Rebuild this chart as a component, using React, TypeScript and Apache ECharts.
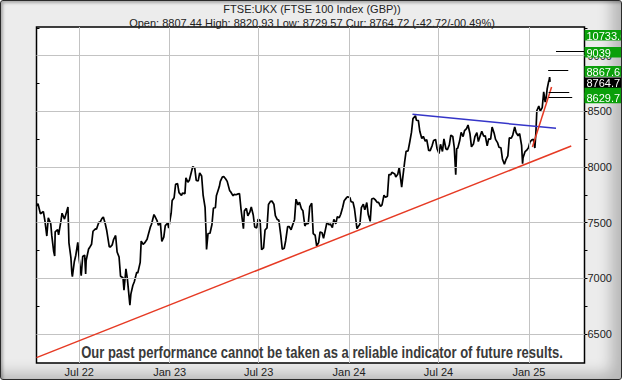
import React, { useEffect, useRef } from "react";
import * as echarts from "echarts";

// ---- price data ----
const prices2022: [string, number][] = [
  ["2022-04-05", 7650], ["2022-04-08", 7670], ["2022-04-13", 7580], ["2022-04-19", 7600], ["2022-04-22", 7521],
  ["2022-04-26", 7380], ["2022-04-29", 7544], ["2022-05-04", 7490], ["2022-05-06", 7388], ["2022-05-10", 7240],
  ["2022-05-12", 7200], ["2022-05-13", 7418], ["2022-05-18", 7438], ["2022-05-20", 7390], ["2022-05-25", 7522],
  ["2022-05-27", 7585], ["2022-06-01", 7532], ["2022-06-08", 7640], ["2022-06-10", 7318], ["2022-06-14", 7187],
  ["2022-06-16", 7045], ["2022-06-17", 7016], ["2022-06-21", 7152], ["2022-06-24", 7208], ["2022-06-28", 7323],
  ["2022-07-01", 7169], ["2022-07-05", 7025], ["2022-07-08", 7196], ["2022-07-12", 7209], ["2022-07-14", 7040],
  ["2022-07-15", 7159], ["2022-07-20", 7264], ["2022-07-22", 7276], ["2022-07-26", 7306], ["2022-07-29", 7423],
  ["2022-08-03", 7445], ["2022-08-05", 7440], ["2022-08-10", 7507], ["2022-08-12", 7501], ["2022-08-16", 7536],
  ["2022-08-19", 7550], ["2022-08-23", 7488], ["2022-08-26", 7427], ["2022-08-31", 7284], ["2022-09-02", 7281],
  ["2022-09-06", 7300], ["2022-09-09", 7351], ["2022-09-13", 7385], ["2022-09-16", 7237], ["2022-09-20", 7192],
  ["2022-09-23", 7019], ["2022-09-28", 7005], ["2022-09-30", 6893], ["2022-10-04", 7086], ["2022-10-07", 6991],
  ["2022-10-12", 6760], ["2022-10-14", 6858], ["2022-10-18", 6936], ["2022-10-21", 6970], ["2022-10-26", 7056],
  ["2022-10-28", 7047], ["2022-11-02", 7144], ["2022-11-04", 7334], ["2022-11-08", 7306], ["2022-11-11", 7318],
  ["2022-11-16", 7351], ["2022-11-18", 7385], ["2022-11-23", 7465], ["2022-11-25", 7486], ["2022-11-30", 7573],
  ["2022-12-02", 7556], ["2022-12-06", 7521], ["2022-12-09", 7476], ["2022-12-13", 7502], ["2022-12-16", 7332],
  ["2022-12-20", 7370], ["2022-12-23", 7473], ["2022-12-28", 7497], ["2022-12-30", 7452],
];
const prices2023: [string, number][] = [
  ["2023-01-04", 7585], ["2023-01-06", 7699], ["2023-01-10", 7724], ["2023-01-13", 7844], ["2023-01-17", 7851],
  ["2023-01-20", 7770], ["2023-01-25", 7744], ["2023-01-27", 7765], ["2023-02-01", 7761], ["2023-02-03", 7902],
  ["2023-02-07", 7864], ["2023-02-10", 7882], ["2023-02-14", 7953], ["2023-02-17", 8004], ["2023-02-21", 7990],
  ["2023-02-24", 7879], ["2023-02-28", 7876], ["2023-03-03", 7947], ["2023-03-07", 7919], ["2023-03-10", 7748],
  ["2023-03-14", 7637], ["2023-03-16", 7410], ["2023-03-17", 7260], ["2023-03-20", 7403], ["2023-03-24", 7405],
  ["2023-03-28", 7484], ["2023-03-31", 7632], ["2023-04-04", 7634], ["2023-04-06", 7742], ["2023-04-12", 7824],
  ["2023-04-14", 7871], ["2023-04-18", 7909], ["2023-04-21", 7914], ["2023-04-25", 7892], ["2023-04-28", 7871],
  ["2023-05-03", 7788], ["2023-05-05", 7778], ["2023-05-10", 7741], ["2023-05-12", 7754], ["2023-05-16", 7751],
  ["2023-05-19", 7756], ["2023-05-23", 7762], ["2023-05-26", 7627], ["2023-05-31", 7446], ["2023-06-02", 7607],
  ["2023-06-06", 7628], ["2023-06-09", 7562], ["2023-06-13", 7594], ["2023-06-16", 7642], ["2023-06-20", 7569],
  ["2023-06-23", 7461], ["2023-06-27", 7453], ["2023-06-30", 7531], ["2023-07-04", 7519], ["2023-07-07", 7257],
  ["2023-07-11", 7274], ["2023-07-14", 7434], ["2023-07-18", 7453], ["2023-07-21", 7663], ["2023-07-25", 7691],
  ["2023-07-28", 7694], ["2023-08-01", 7666], ["2023-08-04", 7564], ["2023-08-08", 7527], ["2023-08-11", 7524],
  ["2023-08-15", 7389], ["2023-08-18", 7262], ["2023-08-22", 7270], ["2023-08-25", 7338], ["2023-08-29", 7465],
  ["2023-09-01", 7465], ["2023-09-05", 7437], ["2023-09-08", 7478], ["2023-09-12", 7527], ["2023-09-15", 7711],
  ["2023-09-19", 7660], ["2023-09-22", 7683], ["2023-09-26", 7625], ["2023-09-29", 7608], ["2023-10-03", 7470],
  ["2023-10-06", 7494], ["2023-10-10", 7492], ["2023-10-13", 7644], ["2023-10-17", 7675], ["2023-10-20", 7402],
  ["2023-10-24", 7387], ["2023-10-27", 7291], ["2023-10-31", 7321], ["2023-11-03", 7417], ["2023-11-07", 7410],
  ["2023-11-10", 7360], ["2023-11-14", 7440], ["2023-11-17", 7504], ["2023-11-21", 7481], ["2023-11-24", 7488],
  ["2023-11-28", 7455], ["2023-12-01", 7529], ["2023-12-05", 7489], ["2023-12-08", 7554], ["2023-12-12", 7544],
  ["2023-12-15", 7576], ["2023-12-19", 7638], ["2023-12-22", 7697], ["2023-12-27", 7725], ["2023-12-29", 7733],
];
const prices2024: [string, number][] = [
  ["2024-01-03", 7723], ["2024-01-05", 7689], ["2024-01-09", 7683], ["2024-01-12", 7625], ["2024-01-17", 7446],
  ["2024-01-19", 7461], ["2024-01-23", 7485], ["2024-01-26", 7635], ["2024-01-30", 7666], ["2024-02-02", 7615],
  ["2024-02-06", 7681], ["2024-02-09", 7573], ["2024-02-13", 7512], ["2024-02-16", 7712], ["2024-02-20", 7719],
  ["2024-02-23", 7707], ["2024-02-27", 7683], ["2024-03-01", 7682], ["2024-03-05", 7646], ["2024-03-08", 7660],
  ["2024-03-12", 7747], ["2024-03-15", 7727], ["2024-03-19", 7738], ["2024-03-22", 7931], ["2024-03-26", 7931],
  ["2024-03-28", 7953], ["2024-04-03", 7937], ["2024-04-05", 7911], ["2024-04-09", 7934], ["2024-04-12", 7996],
  ["2024-04-17", 7820], ["2024-04-19", 7896], ["2024-04-23", 8044], ["2024-04-26", 8140], ["2024-04-30", 8144],
  ["2024-05-03", 8213], ["2024-05-07", 8313], ["2024-05-10", 8434], ["2024-05-15", 8460], ["2024-05-17", 8420],
  ["2024-05-21", 8416], ["2024-05-24", 8318], ["2024-05-28", 8255], ["2024-05-31", 8275], ["2024-06-04", 8232],
  ["2024-06-07", 8245], ["2024-06-11", 8148], ["2024-06-14", 8147], ["2024-06-18", 8192], ["2024-06-21", 8238],
  ["2024-06-25", 8247], ["2024-06-28", 8164], ["2024-07-02", 8121], ["2024-07-05", 8204], ["2024-07-09", 8139],
  ["2024-07-12", 8253], ["2024-07-16", 8164], ["2024-07-19", 8155], ["2024-07-23", 8198], ["2024-07-26", 8285],
  ["2024-07-30", 8274], ["2024-08-02", 8175], ["2024-08-05", 7930], ["2024-08-07", 8166], ["2024-08-09", 8168],
  ["2024-08-13", 8235], ["2024-08-16", 8311], ["2024-08-20", 8273], ["2024-08-23", 8327], ["2024-08-27", 8345],
  ["2024-08-30", 8377], ["2024-09-03", 8298], ["2024-09-06", 8181], ["2024-09-10", 8206], ["2024-09-13", 8273],
  ["2024-09-17", 8309], ["2024-09-20", 8229], ["2024-09-24", 8282], ["2024-09-27", 8320], ["2024-10-01", 8276],
  ["2024-10-04", 8281], ["2024-10-08", 8190], ["2024-10-11", 8253], ["2024-10-15", 8249], ["2024-10-18", 8358],
  ["2024-10-22", 8306], ["2024-10-25", 8248], ["2024-10-29", 8219], ["2024-11-01", 8177], ["2024-11-05", 8172],
  ["2024-11-08", 8072], ["2024-11-12", 8025], ["2024-11-15", 8063], ["2024-11-19", 8099], ["2024-11-22", 8262],
  ["2024-11-26", 8258], ["2024-11-29", 8287], ["2024-12-03", 8359], ["2024-12-06", 8308], ["2024-12-10", 8280],
  ["2024-12-13", 8300], ["2024-12-17", 8195], ["2024-12-19", 8030], ["2024-12-20", 8084], ["2024-12-24", 8137],
  ["2024-12-27", 8149], ["2024-12-31", 8173],
];
const prices2025: [string, number][] = [
  ["2025-01-03", 8224], ["2025-01-07", 8245], ["2025-01-10", 8248], ["2025-01-13", 8170], ["2025-01-15", 8301],
  ["2025-01-17", 8505], ["2025-01-21", 8548], ["2025-01-24", 8502], ["2025-01-28", 8533], ["2025-01-31", 8674],
  ["2025-02-03", 8583], ["2025-02-05", 8623], ["2025-02-07", 8700], ["2025-02-10", 8767], ["2025-02-11", 8777],
  ["2025-02-12", 8807], ["2025-02-13", 8765],
];

// ---- axes ----
const xMin = "2022-04-05";
const xMax = "2025-04-24";
const yMin = 6240;
const yMax = 9257;
const xTickDates = ["2022-07-01", "2023-01-01", "2023-07-01", "2024-01-01", "2024-07-01", "2025-01-01"];
const xTickLabels = ["Jul 22", "Jan 23", "Jul 23", "Jan 24", "Jul 24", "Jan 25"];
const yLabelValues = [6500, 7000, 7500, 8000, 8500, 9000];
const yTickValues = [6500, 6750, 7000, 7250, 7500, 7750, 8000, 8250, 8500, 8750, 9000, 9250];

// ---- trend lines [startDate, startValue, endDate, endValue] ----
const longSupport: [string, number, string, number] = ["2022-04-05", 6288, "2025-03-28", 8188];
const resistance: [string, number, string, number] = ["2024-05-09", 8473, "2025-02-25", 8347];
const shortSupport: [string, number, string, number] = ["2025-01-08", 8179, "2025-02-16", 8718];

// ---- target levels ----
const targetValues = [8629.7, 8673, 8867.6, 9039, 10733.6];
const targetTexts = ["8629.7", "", "8867.6", "9039", "10733.6"];
const targetLineStart = ["2025-02-10", "2025-02-10", "2025-02-09", "2025-02-25", ""];
const targetLineEnd = ["2025-03-30", "2025-03-24", "2025-03-22", xMax, ""];
const curValue = 8764.72;
const curText = "8764.7";

const titleText = "FTSE:UKX (FTSE 100 Index (GBP))";
const subTitleText = "Open: 8807.44 High: 8820.93 Low: 8729.57 Cur: 8764.72 (-42.72/-00.49%)";
const disclaimer = "Our past performance cannot be taken as a reliable indicator of future results.";

const ts = (s: string) => new Date(s + "T00:00:00Z").getTime();

export default function App() {
  const ref = useRef<HTMLDivElement>(null);
  useEffect(() => {
    if (!ref.current) return;
    const chart = echarts.init(ref.current, null, { renderer: "svg", width: 622, height: 380 });
    const allPrices = [...prices2022, ...prices2023, ...prices2024, ...prices2025].map(
      ([d, v]) => [ts(d), v] as [number, number]
    );
    const seg = (t: [string, number, string, number]) => [
      { coord: [ts(t[0]), t[1]] },
      { coord: [ts(t[2]), t[3]] },
    ];
    const targetSegs = targetValues
      .map((v, i) =>
        targetLineStart[i]
          ? [{ coord: [ts(targetLineStart[i]), v] }, { coord: [ts(targetLineEnd[i]), v] }]
          : null
      )
      .filter(Boolean);
    const font = "Liberation Sans, Arial, sans-serif";
    const option: any = {
      animation: false,
      backgroundColor: "transparent",
      grid: {
        left: 35.5,
        right: 38.5,
        top: 26,
        bottom: 18,
        show: true,
        backgroundColor: "#ffffff",
        borderColor: "#000000",
        borderWidth: 1.5,
      },
      xAxis: {
        type: "time",
        min: ts(xMin),
        max: ts(xMax),
        axisLine: { show: false },
        axisTick: { show: false },
        axisLabel: { show: false },
        splitLine: { show: false },
      },
      yAxis: [
        {
          type: "value",
          position: "right",
          min: yMin,
          max: yMax,
          axisLine: { show: false },
          axisTick: { show: true, customValues: yTickValues, length: 3, lineStyle: { color: "#000" } },
          axisLabel: {
            show: true,
            customValues: yLabelValues,
            formatter: (v: number) => String(v),
            color: "#222",
            fontSize: 11,
            fontFamily: font,
            margin: 3,
          },
          splitLine: { show: false },
        },
        {
          type: "value",
          position: "left",
          min: yMin,
          max: yMax,
          axisLine: { show: false },
          axisTick: { show: true, inside: true, customValues: yTickValues, length: 3, lineStyle: { color: "#000" } },
          axisLabel: { show: false },
          splitLine: { show: false },
        },
      ],
      series: [
        {
          type: "line",
          name: "grid",
          data: allPrices,
          showSymbol: false,
          silent: true,
          z: 1,
          lineStyle: { opacity: 0, width: 0 },
          markLine: {
            silent: true,
            symbol: ["none", "none"],
            animation: false,
            lineStyle: { color: "#c3c3c3", width: 1, type: "solid" },
            data: [
              ...yLabelValues.map((v) => ({ yAxis: v, label: { show: false } })),
              ...xTickDates.map((d, i) => ({
                xAxis: ts(d),
                name: xTickLabels[i],
                label: {
                  show: true,
                  position: "start",
                  formatter: "{b}",
                  color: "#222",
                  fontSize: 11,
                  fontFamily: font,
                  distance: 3,
                },
              })),
            ],
          },
        },
        {
          type: "line",
          name: "FTSE 100",
          data: allPrices,
          showSymbol: false,
          z: 3,
          lineStyle: { color: "#000", width: 1.7 },
        },
        {
          type: "line",
          name: "lines",
          data: [],
          z: 4,
          markLine: {
            silent: true,
            symbol: ["none", "none"],
            animation: false,
            label: { show: false },
            data: [
              [
                { ...seg(longSupport)[0], lineStyle: { color: "#e63a24", width: 1.5, type: "solid" } },
                seg(longSupport)[1],
              ],
              [
                { ...seg(resistance)[0], lineStyle: { color: "#3535c8", width: 1.5, type: "solid" } },
                seg(resistance)[1],
              ],
              [
                { ...seg(shortSupport)[0], lineStyle: { color: "#e63a24", width: 1.5, type: "solid" } },
                seg(shortSupport)[1],
              ],
              ...targetSegs.map((s: any) => [
                { ...s[0], lineStyle: { color: "#000", width: 1, type: "solid" } },
                s[1],
              ]),
            ],
          },
        },
      ],
    };
    chart.setOption(option);

    const topClamp = 33.3;
    const toPx = (v: number) => Math.max(chart.convertToPixel({ yAxisIndex: 0 }, v) as number, topClamp);
    const boxX = 583.5;
    const boxH = 10.6;
    const box = (v: number, text: string, fill: string) => {
      const cy = toPx(v) + 1;
      return [
        { type: "rect", z: 100, shape: { x: boxX, y: cy - boxH / 2, width: 45, height: boxH }, style: { fill } },
        {
          type: "text",
          z: 101,
          x: boxX + 2,
          y: cy + 0.5,
          style: { text, fill: "#fff", font: "11px " + font, textVerticalAlign: "middle" },
        },
      ];
    };
    const green = "#0a9f0a";
    const order = [1, 0, 2, 3, 4];

    // fit the condensed bold disclaimer to the reference's width
    const discFont = 'bold 16px "Liberation Sans", Arial, sans-serif';
    let discScale = 1;
    try {
      const cv = document.createElement("canvas").getContext("2d");
      if (cv) {
        cv.font = discFont;
        const w = cv.measureText(disclaimer).width;
        if (w > 0) discScale = 482 / w;
      }
    } catch (e) {}

    const elements: any[] = [
      {
        type: "text",
        x: 311,
        y: 8,
        style: { text: titleText, fill: "#222", font: "11px " + font, textAlign: "center", textVerticalAlign: "middle" },
      },
      {
        type: "text",
        x: 311,
        y: 21.5,
        style: { text: subTitleText, fill: "#222", font: "11px " + font, textAlign: "center", textVerticalAlign: "middle" },
      },
      {
        type: "text",
        x: 321,
        y: 352,
        z: 50,
        scaleX: discScale,
        style: {
          text: disclaimer,
          fill: "#3a3a3a",
          font: discFont,
          textAlign: "center",
          textVerticalAlign: "middle",
        },
      },
      ...box(curValue, curText, "#000"),
    ];
    order.forEach((i) => elements.push(...box(targetValues[i], targetTexts[i], green)));
    chart.setOption({ graphic: { elements } });

    return () => chart.dispose();
  }, []);
  return (
    <div
      ref={ref}
      style={{
        position: "fixed",
        left: 0,
        top: 0,
        width: 622,
        height: 380,
        boxSizing: "border-box",
        border: "1px solid #2a2a2a",
        borderRadius: 3,
        background: "#ececec",
        boxShadow: "inset 2px 2px 3px rgba(0,0,0,0.28), inset -16px -12px 14px -6px rgba(0,0,0,0.22)",
        overflow: "hidden",
      }}
    />
  );
}
